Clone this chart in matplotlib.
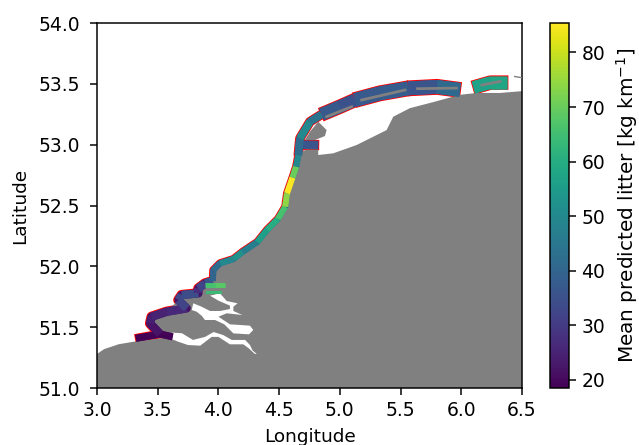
import numpy as np
import matplotlib
matplotlib.use('Agg')
import matplotlib.pyplot as plt
from matplotlib.collections import LineCollection

# land and water outlines (lon, lat)
land_lon = [3.0,3.06,3.18,3.33,3.62,3.519,3.437,3.45,3.574,3.67,3.697,3.835,3.835,3.89,3.953,3.958,4.013,4.123,4.20,4.32,4.40,4.49,4.55,4.565,4.61,4.64,4.67,4.69,4.72,4.822,4.822,4.946,5.138,5.385,5.44,5.577,5.77,5.99,6.13,6.32,6.5,6.5,3.0]
land_lat = [51.28,51.32,51.36,51.385,51.42,51.444,51.531,51.586,51.627,51.723,51.764,51.778,51.819,51.86,51.879,51.97,52.025,52.06,52.12,52.20,52.30,52.39,52.49,52.60,52.73,52.82,52.88,52.94,52.96,52.96,52.915,52.929,52.997,53.12,53.23,53.30,53.35,53.41,53.425,53.425,53.44,51.0,51.0]
texel_lon = [4.713,4.754,4.822,4.891,4.877,4.795]
texel_lat = [53.038,53.107,53.189,53.12,53.071,53.038]
wester_lon = [3.62,3.70,3.79,3.89,3.96,4.04,4.11,4.22,4.26,4.28,4.315,4.30,4.25,4.205,4.095,4.0,3.944,3.85,3.75,3.67,3.62]
wester_lat = [51.455,51.45,51.395,51.42,51.46,51.435,51.395,51.395,51.353,51.31,51.28,51.28,51.326,51.359,51.359,51.42,51.42,51.348,51.353,51.38,51.40]
ooster_lon = [3.793,3.862,3.931,4.013,4.095,4.095,4.0,3.931,4.013,4.068,4.158,4.123,4.123,4.197,4.068,4.0,4.095,4.178,4.26,4.287,4.252,4.123,4.049,3.972,3.889,3.862,3.821,3.78]
ooster_lat = [51.696,51.668,51.633,51.633,51.649,51.677,51.718,51.759,51.778,51.715,51.696,51.668,51.633,51.60,51.614,51.586,51.523,51.518,51.512,51.477,51.441,51.449,51.523,51.559,51.559,51.594,51.627,51.641]

# coastal bands: points and mean litter per piece
zee1_lon = [3.32,3.42,3.519,3.623]
zee1_lat = [51.408,51.426,51.444,51.42]
zee1_val = [19,19,19]
zee2_lon = [3.519,3.437,3.45,3.574,3.739,3.67,3.697,3.835,3.835,3.89,3.953]
zee2_lat = [51.444,51.531,51.586,51.627,51.655,51.723,51.764,51.778,51.819,51.86,51.879]
zee2_val = [22,24,25,26,32,33,34,27,32,36]
green1_lon = [3.89,3.97,4.054]
green1_lat = [51.846,51.846,51.846]
green1_val = [66,68]
green2_lon = [3.898,4.027]
green2_lat = [51.783,51.786]
green2_val = [64]
holland_lon = [3.953,3.958,4.013,4.123,4.20,4.32,4.40,4.49,4.55,4.565,4.61,4.64,4.658]
holland_lat = [51.879,51.97,52.025,52.06,52.12,52.20,52.30,52.39,52.49,52.60,52.73,52.82,52.915]
holland_val = [40,42,50,52,47,56,60,66,74,85,70,50]
texel_low_lon = [4.644,4.822]
texel_low_lat = [53.0,52.997]
texel_low_val = [36]
texel_band_lon = [4.658,4.671,4.754,4.85]
texel_band_lat = [52.915,53.052,53.189,53.249]
texel_band_val = [42,50,44]
vlie_lon = [4.85,5.0,5.124]
vlie_lat = [53.249,53.312,53.367]
vlie_val = [37,35]
terschelling_lon = [5.124,5.33,5.564]
terschelling_lat = [53.367,53.422,53.463]
terschelling_val = [37,38]
ameland_lon = [5.564,5.80,5.99]
ameland_lat = [53.463,53.475,53.45]
ameland_val = [36,41]
island_lon = [6.10,6.24,6.38]
island_lat = [53.47,53.51,53.51]
island_val = [57,58]

# grey strips left in the middle of the islands
strip1_lon, strip1_lat = [4.891,5.097], [53.23,53.312]
strip2_lon, strip2_lat = [5.179,5.536], [53.367,53.449]
strip3_lon, strip3_lat = [5.64,5.96], [53.46,53.465]
strip4_lon, strip4_lat = [6.17,6.32], [53.49,53.52]
strip5_lon, strip5_lat = [6.44,6.5], [53.56,53.55]

vmin, vmax = 18.5, 85.4
norm = plt.Normalize(vmin, vmax)
cmap = plt.cm.viridis

def stretch(lon, lat, d=0.008):
    # make the red run a little longer so the band ends get an edge too
    x, y = np.array(lon, dtype=float), np.array(lat, dtype=float)
    a = np.array([x[0]-x[1], y[0]-y[1]])
    b = np.array([x[-1]-x[-2], y[-1]-y[-2]])
    x[0] += d*a[0]/np.hypot(*a)
    y[0] += d*a[1]/np.hypot(*a)
    x[-1] += d*b[0]/np.hypot(*b)
    y[-1] += d*b[1]/np.hypot(*b)
    return x, y

fig = plt.figure(figsize=(6.39, 4.45), dpi=100)
ax = fig.add_axes([97/639, 1-388/445, 425/639, 365/445])
cax = fig.add_axes([550/639, 1-388/445, 18.5/639, 365/445])

bands = [(zee1_lon, zee1_lat, zee1_val, 5.0),
         (zee2_lon, zee2_lat, zee2_val, 6.0),
         (holland_lon, holland_lat, holland_val, 4.4),
         (texel_low_lon, texel_low_lat, texel_low_val, 6.0),
         (texel_band_lon, texel_band_lat, texel_band_val, 5.5),
         (vlie_lon, vlie_lat, vlie_val, 9.0),
         (terschelling_lon, terschelling_lat, terschelling_val, 10.0),
         (ameland_lon, ameland_lat, ameland_val, 10.0),
         (island_lon, island_lat, island_val, 9.0),
         (green1_lon, green1_lat, green1_val, 3.5),
         (green2_lon, green2_lat, green2_val, 2.0)]

# red edge goes under the land so it only shows on the sea side
for lon, lat, val, w in bands:
    rx, ry = stretch(lon, lat)
    ax.plot(rx, ry, color='red', lw=w+1.4, solid_capstyle='butt', solid_joinstyle='round', zorder=1)

ax.fill(land_lon, land_lat, color='grey', lw=0, zorder=2)
ax.fill(wester_lon, wester_lat, color='white', lw=0, zorder=3)
ax.fill(ooster_lon, ooster_lat, color='white', lw=0, zorder=3)

for lon, lat, val, w in bands:
    # whole run first so the joints have no gaps, then the pieces
    ax.plot(lon, lat, color=cmap(norm(val[0])), lw=w, solid_capstyle='butt', solid_joinstyle='round', zorder=4)
    pts = np.column_stack([lon, lat])
    segs = np.stack([pts[:-1], pts[1:]], axis=1)
    ax.add_collection(LineCollection(segs, colors=cmap(norm(val)), linewidths=w, capstyle='butt', zorder=4.1))

ax.fill(texel_lon, texel_lat, color='grey', lw=0, zorder=5)
ax.plot(strip1_lon, strip1_lat, color='grey', lw=2, zorder=5)
ax.plot(strip2_lon, strip2_lat, color='grey', lw=2, zorder=5)
ax.plot(strip3_lon, strip3_lat, color='grey', lw=2, zorder=5)
ax.plot(strip4_lon, strip4_lat, color='grey', lw=2, zorder=5)
ax.plot(strip5_lon, strip5_lat, color='grey', lw=1, zorder=5)

ax.set_xlim(3.0, 6.5)
ax.set_ylim(51.0, 54.0)
ax.set_xticks(np.arange(3.0, 7.0, 0.5))
ax.set_yticks(np.arange(51.0, 54.5, 0.5))
ax.tick_params(labelsize=13.5, length=4.7, width=1.08, pad=4.7)
ax.tick_params(axis='y', pad=7.5)
for s in ax.spines.values():
    s.set_linewidth(1.08)
ax.set_xlabel('Longitude', fontsize=13.3, labelpad=6)
ax.set_ylabel('Latitude', fontsize=13.3, labelpad=7)

sm = plt.cm.ScalarMappable(norm=norm, cmap=cmap)
cb = fig.colorbar(sm, cax=cax)
cb.set_ticks(np.arange(20, 90, 10))
cb.ax.tick_params(labelsize=13.5, length=4.7, width=1.08, pad=4.7)
cb.outline.set_linewidth(1.08)
cb.set_label('Mean predicted litter [kg km$^{-1}$]', fontsize=14.4, labelpad=6)

fig.savefig('out.png', dpi=100)
